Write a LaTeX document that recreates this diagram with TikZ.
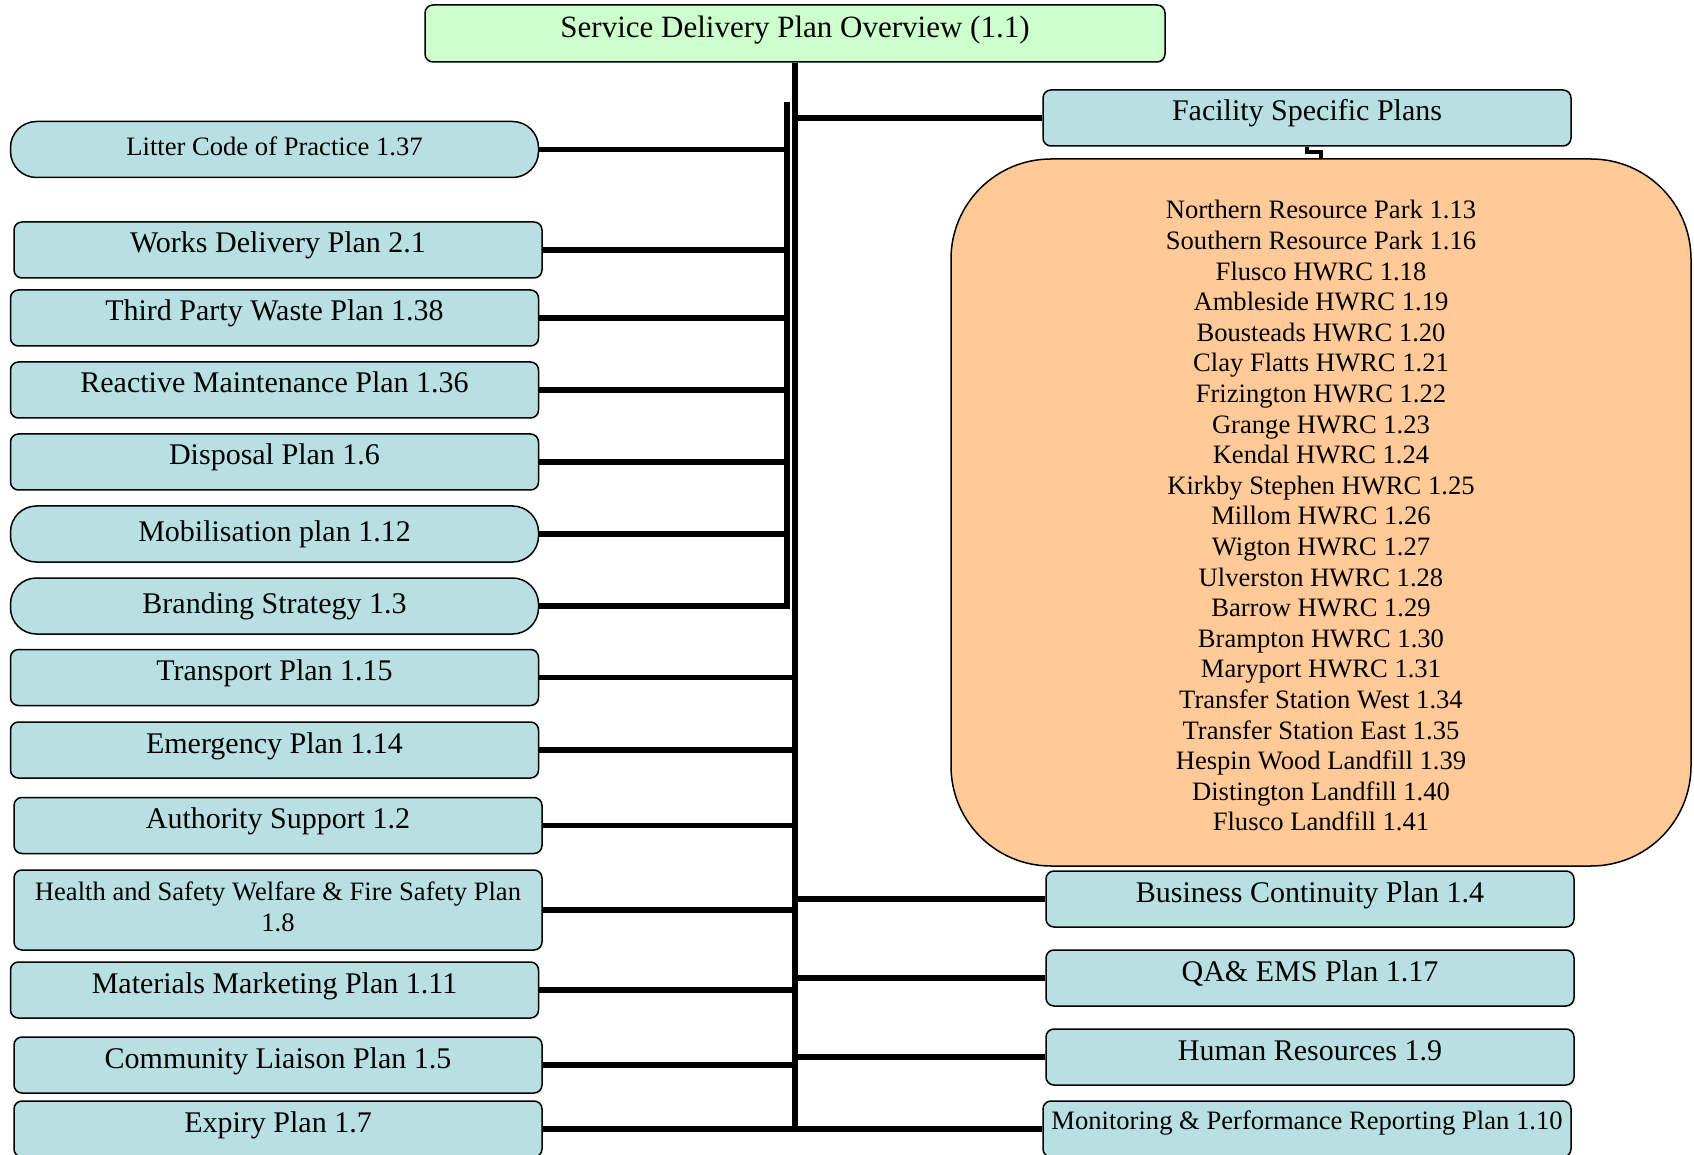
\documentclass[tikz,border=0pt]{standalone}
\usepackage{fontspec}
\setmainfont{Liberation Serif}
\usepackage{tikz}

\definecolor{planblue}{HTML}{B8E0E3}
\definecolor{plangreen}{HTML}{CCFFCC}
\definecolor{planorange}{HTML}{FFCA97}

\begin{document}
\begin{tikzpicture}[x=0.5pt, y=-0.5pt,
    box/.style={draw=black, line width=0.75pt, fill=planblue, rounded corners=4pt,
      inner sep=0pt, minimum width=264pt, minimum height=28pt},
    plan/.style={box, font=\fontsize{15}{18}\selectfont, text height=15.5pt, text depth=12.5pt},
    small/.style={font=\fontsize{13.3}{15.3}\selectfont},
    capsule/.style={rounded corners=13pt, text height=17.5pt, text depth=10.5pt},
    link/.style={line width=2.6pt}]

  \useasboundingbox (0,0) rectangle (1694,1155);

  \newcommand\Lx{274.5}
  \newcommand\Ly{278}

  %% top of the tree
  \node[box, fill=plangreen, minimum width=370pt, minimum height=28.5pt,
    font=\fontsize{15.5}{18}\selectfont, text height=16.5pt, text depth=12pt]
    (overview) at (795, 33.5) {Service Delivery Plan Overview (1.1)};

  %% left column
  \node[plan, capsule, small, text height=17pt, text depth=11pt] (litter) at (\Lx, 149.5) {Litter Code of Practice 1.37};
  \node[plan] (works)     at (\Ly, 250)   {Works Delivery Plan 2.1};
  \node[plan] (thirdp)    at (\Lx, 318)   {Third Party Waste Plan 1.38};
  \node[plan] (reactive)  at (\Lx, 390)   {Reactive Maintenance Plan 1.36};
  \node[plan] (disposal)  at (\Lx, 462)   {Disposal Plan 1.6};
  \node[plan, capsule] (mobil)  at (\Lx, 534) {Mobilisation plan 1.12};
  \node[plan, capsule] (brand)  at (\Lx, 606) {Branding Strategy 1.3};
  \node[plan] (transport) at (\Lx, 677.5) {Transport Plan 1.15};
  \node[plan] (emergency) at (\Lx, 750)   {Emergency Plan 1.14};
  \node[plan] (authority) at (\Ly, 825.5) {Authority Support 1.2};
  \node[box, small, minimum height=40pt, align=center] (health) at (\Ly, 910)
    {Health and Safety Welfare \& Fire Safety Plan\\1.8\rule[-3.2pt]{0pt}{3.2pt}};
  \node[plan] (materials) at (\Lx, 990)   {Materials Marketing Plan 1.11};
  \node[plan] (community) at (\Ly, 1065)  {Community Liaison Plan 1.5};
  \node[plan] (expiry)    at (\Ly, 1129)  {Expiry Plan 1.7};

  %% right column
  \node[plan] (facility) at (1307, 118) {Facility Specific Plans};
  \node[draw=black, line width=0.75pt, fill=planorange, rounded corners=50pt,
    minimum width=370pt, minimum height=353.5pt, align=center, small] (sites) at (1321, 512.5)
    {\rule{0pt}{12.6pt}Northern Resource Park 1.13\\Southern Resource Park 1.16\\Flusco HWRC 1.18\\
     Ambleside HWRC 1.19\\Bousteads HWRC 1.20\\Clay Flatts HWRC 1.21\\
     Frizington HWRC 1.22\\Grange HWRC 1.23\\Kendal HWRC 1.24\\
     Kirkby Stephen HWRC 1.25\\Millom HWRC 1.26\\Wigton HWRC 1.27\\
     Ulverston HWRC 1.28\\Barrow HWRC 1.29\\Brampton HWRC 1.30\\
     Maryport HWRC 1.31\\Transfer Station West 1.34\\Transfer Station East 1.35\\
     Hespin Wood Landfill 1.39\\Distington Landfill 1.40\\Flusco Landfill 1.41};
  \node[plan] (continuity) at (1310, 899)  {Business Continuity Plan 1.4};
  \node[plan] (qaems)      at (1310, 978)  {QA\& EMS Plan 1.17};
  \node[plan] (hr)         at (1310, 1057) {Human Resources 1.9};
  \node[plan, small, text height=14pt, text depth=14pt] (monitoring) at (1307, 1129)
    {Monitoring \& Performance Reporting Plan 1.10};

  %% trunk and bracket
  \coordinate (trunkend) at (overview.south |- expiry.east);
  \coordinate (brtop) at (787, 102);
  \draw[line width=3pt] (overview.south) -- (trunkend);
  \draw[link] (brtop) |- (brand.east);

  \foreach \n in {litter,works,thirdp,reactive,disposal,mobil}
    \draw[link] (\n.east) -- (\n.east -| brtop);
  \foreach \n in {transport,emergency,authority,health,materials,community,expiry}
    \draw[link] (\n.east) -- (\n.east -| overview.south);
  \foreach \n in {facility,continuity,qaems,hr,monitoring}
    \draw[link] (\n.west) -- (\n.west -| overview.south);

  \draw[line width=2.2pt] (facility.south) -- ++(0,5) -| (sites.north); %% facility -> sites
\end{tikzpicture}
\end{document}
